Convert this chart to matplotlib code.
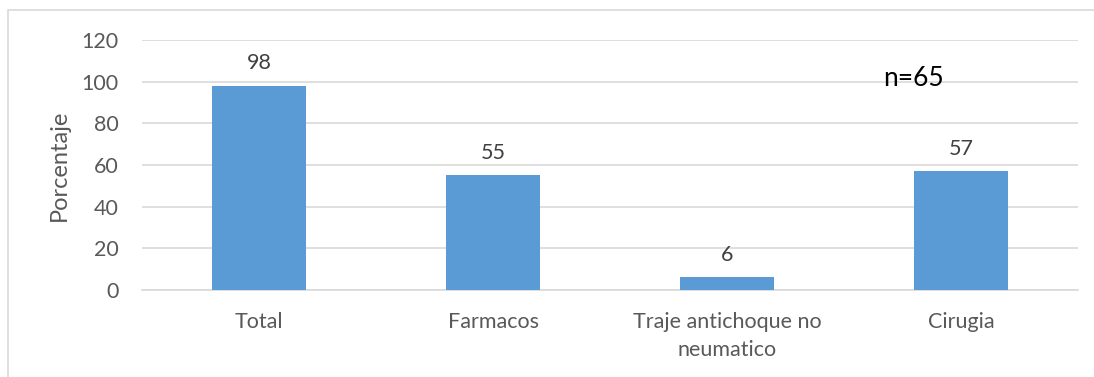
import matplotlib.pyplot as plt
from matplotlib.patches import Rectangle

categorias = ['Total', 'Farmacos', 'Traje antichoque no\nneumatico', 'Cirugia']
porcentajes = [98, 55, 6, 57]
y_ticks = [0, 20, 40, 60, 80, 100, 120]

plt.rcParams['font.family'] = ['Lato', 'DejaVu Sans']

fig = plt.figure(figsize=(10.94, 3.77), dpi=100)
ax = fig.add_axes([0.1298, 0.2308, 0.8556, 0.6631])

# marco del grafico
fig.patches.append(Rectangle((8 / 1094, -0.1), 1.2, 1 - 10 / 377 + 0.1,
                             transform=fig.transFigure, fill=False,
                             edgecolor='#D9D9D9', linewidth=1.2))

x = range(len(categorias))
barras = ax.bar(x, porcentajes, width=0.4, color='#5B9BD5', zorder=3)

for xi, v in zip(x, porcentajes):
    ax.annotate(str(v), (xi, v), xytext=(0, 9), textcoords='offset points',
                ha='center', va='bottom', fontsize=15.5, color='#404040')

ax.set_xlim(-0.5, len(categorias) - 0.5)
ax.set_ylim(0, 120)
ax.set_yticks(y_ticks)
ax.set_xticks(list(x))
ax.set_xticklabels(categorias, linespacing=1.5)
ax.tick_params(axis='both', length=0, labelsize=15.5, labelcolor='#595959')
ax.tick_params(axis='x', pad=16)
ax.tick_params(axis='y', pad=17)
ax.grid(axis='y', color='#D9D9D9', linewidth=1.2, zorder=0)
for lado in ['top', 'right', 'left']:
    ax.spines[lado].set_visible(False)
ax.spines['bottom'].set_color('#D9D9D9')
ax.spines['bottom'].set_linewidth(1.2)

ax.set_ylabel('Porcentaje', fontsize=17, color='#595959', labelpad=8)

fig.text(913 / 1094, 1 - 79 / 377, 'n=65', fontsize=19, color='black',
         ha='center', va='center')

fig.savefig('out.png', dpi=100)
